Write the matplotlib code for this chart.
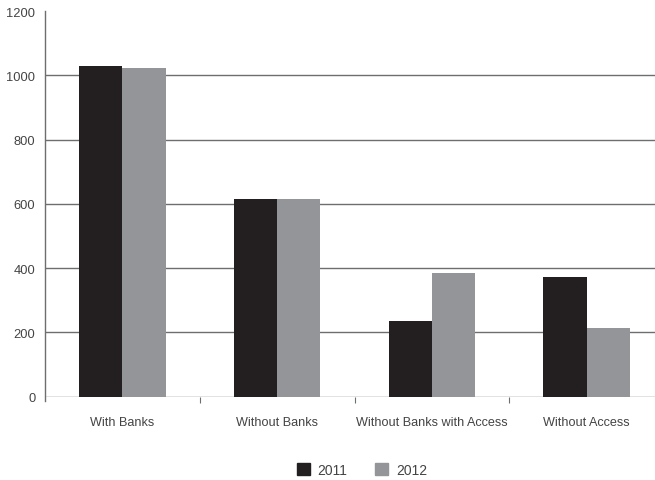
import matplotlib
matplotlib.use("Agg")
import matplotlib.pyplot as plt
import numpy as np
from matplotlib.patches import Patch

categories = ["With Banks", "Without Banks", "Without Banks with Access", "Without Access"]
series_names = ["2011", "2012"]
values_2011 = [1029, 614, 236, 371]
values_2012 = [1023, 614, 386, 213]
yticks = [0, 200, 400, 600, 800, 1000, 1200]

colors = ["#231f20", "#939598"]
text_color = "#444444"
grid_color = "#6d6e71"

plt.rcParams['font.family'] = ['Liberation Sans', 'DejaVu Sans']

fig = plt.figure(figsize=(6.55, 4.81), dpi=100)
W, H = 655, 481
left, right, top, bottom = 45, 664, 12, 397.7
ax = fig.add_axes([left / W, 1 - bottom / H, (right - left) / W, (bottom - top) / H])

x = np.arange(len(categories))
bw = 0.28
ax.bar(x - bw / 2, values_2011, width=bw, color=colors[0], zorder=3)
ax.bar(x + bw / 2, values_2012, width=bw, color=colors[1], zorder=3)

ax.set_xlim(-0.5, len(categories) - 0.5)
ax.set_ylim(0, 1200)
ax.set_yticks(yticks)
ax.set_yticklabels([str(v) for v in yticks], fontsize=9.3, color=text_color)
ax.tick_params(axis='y', length=0, pad=7)

for v in yticks[:-1]:
    ax.axhline(v, color=grid_color, lw=1.0, zorder=1)

ax.set_xticks(x[1:] - 0.5)
ax.set_xticklabels([])
ax.tick_params(axis='x', which='major', length=4, width=0.8, color=grid_color, direction='out')
ax.set_xticks(x, minor=True)
ax.set_xticklabels(categories, minor=True, fontsize=9.1, color=text_color)
ax.tick_params(axis='x', which='minor', length=0, pad=14)

for s in ['top', 'right', 'bottom']:
    ax.spines[s].set_visible(False)
ax.spines['left'].set_color(grid_color)
ax.spines['left'].set_linewidth(1.0)
ax.spines['left'].set_bounds(-12, 1200)

handles = [Patch(color=colors[0]), Patch(color=colors[1])]
leg = fig.legend(handles, series_names, loc='center', bbox_to_anchor=(362 / W, 1 - 471 / H),
                 ncol=2, frameon=False, fontsize=10, handlelength=0.91, handleheight=0.91,
                 handletextpad=0.58, columnspacing=2.0, labelcolor=text_color,
                 borderpad=0, borderaxespad=0)

fig.savefig("out.png", dpi=100)
